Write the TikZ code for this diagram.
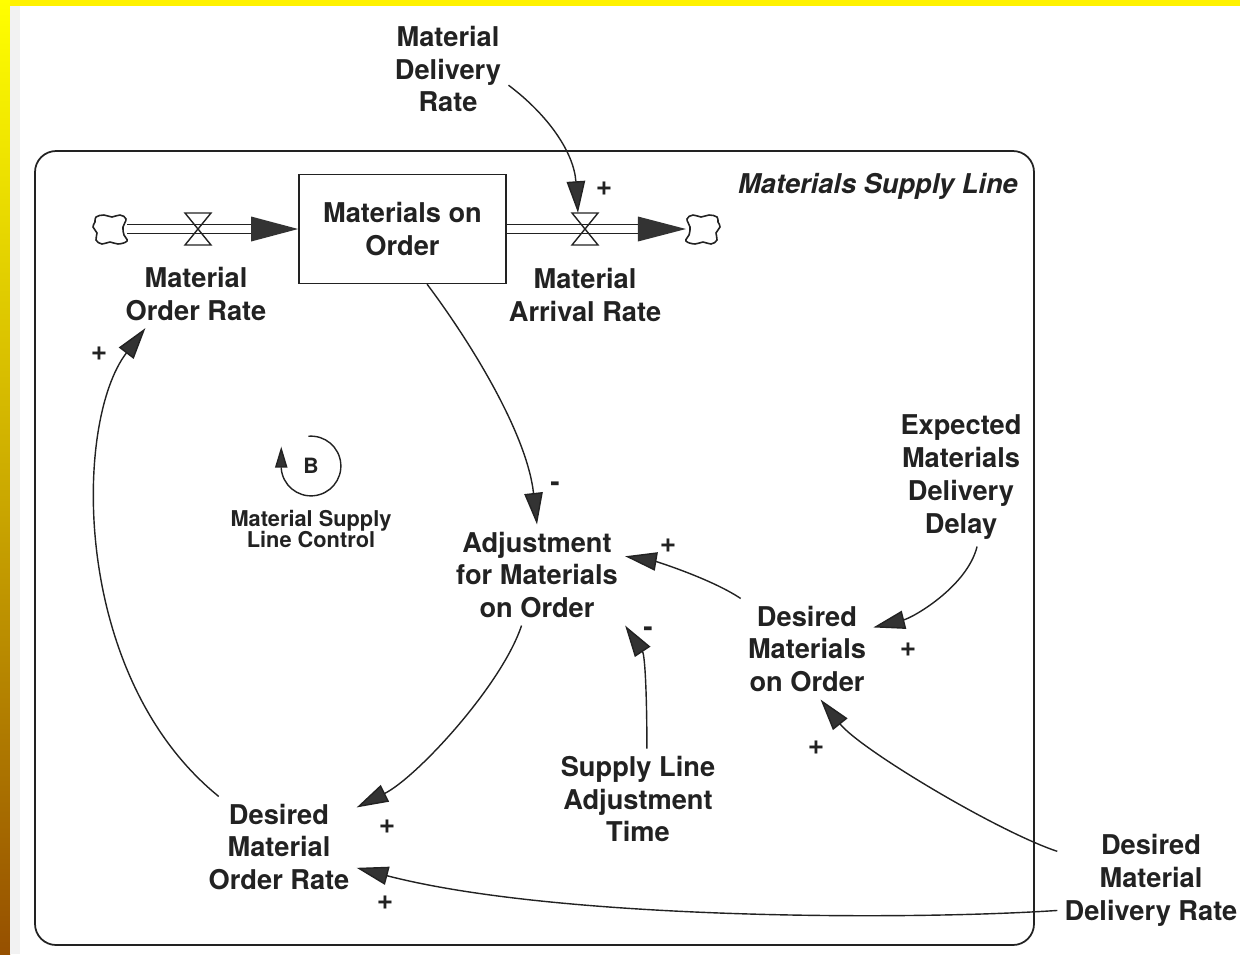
\documentclass[tikz,border=0pt]{standalone}
\usepackage{fontspec}
\setmainfont{TeX Gyre Heros}
\usetikzlibrary{arrows.meta}
\definecolor{ink}{HTML}{222222}
\definecolor{tipgray}{HTML}{333333}
\definecolor{edgegold}{RGB}{205,172,0}
\definecolor{edgebrown}{RGB}{150,80,0}
\begin{document}
\begin{tikzpicture}[x=0.02cm,y=-0.02cm,
    var/.style={align=center,inner sep=4pt,text=ink,font=\bfseries\fontsize{15.5}{18.7}\selectfont},
    sign/.style={inner sep=0pt,text=ink,font=\bfseries\fontsize{16}{16}\selectfont},
    link/.style={line width=0.8pt,draw=ink,-{Triangle[length=18pt,width=10.5pt,fill=tipgray]}},
    pipe/.style={double distance=4pt,line width=0.9pt,draw=ink},
    gate/.style={minimum width=15pt,minimum height=18pt,inner sep=0pt},
    sink/.style={minimum width=19pt,minimum height=17pt,inner sep=0pt},
    valve/.pic={\draw[line width=0.8pt,draw=ink] (-13,-16) -- (13,-16) -- (-13,16) -- (13,16) -- cycle;},
    cloud/.pic={\draw[line width=0.9pt,draw=ink,fill=white] plot[smooth cycle,tension=0.7] coordinates
        {(-14,-12) (-6,-14) (2,-12) (10,-14) (16,-10) (13,-2) (14,6) (17,12) (8,15) (0,13) (-8,15) (-14,11) (-13,4) (-17,-2) (-15,-7)};}]
    \useasboundingbox (0,0) rectangle (1240,954);
    % page edge
    \fill[yellow] (0,0) rectangle (1240,6);
    \shade[top color=yellow,bottom color=edgebrown,middle color=edgegold] (0,0) rectangle (10,954);
    \fill[black!5] (10,6) rectangle (20,954);
    \draw[line width=1pt,draw=ink,rounded corners=12pt] (35,151) rectangle (1034,945);
    \node[var,font=\bfseries\itshape\fontsize{15.5}{18}\selectfont] (title) at (878,186) {Materials Supply Line};
    % stock and flows
    \node[var,draw=ink,line width=0.8pt,minimum width=118pt,minimum height=62pt] (stock) at (402.5,229) {Materials on\\Order};
    \node[sink] (cloudL) at (110,229) {};
    \node[sink] (cloudR) at (703,229) {};
    \node[gate] (vin) at (198,229) {};
    \node[gate] (vout) at (585,229) {};
    \draw[pipe,shorten >=25pt] (cloudL.east) -- (stock.west);
    \fill[tipgray] (stock.west) -- ++(-47,-12.5) -- ++(0,25) -- cycle;
    \draw[pipe,shorten >=26pt] (stock.east) -- (cloudR.west);
    \fill[tipgray] (cloudR.west) -- ++(-48,-12.5) -- ++(0,25) -- cycle;
    \pic at (vin) {valve};
    \pic at (vout) {valve};
    \pic at (cloudL) {cloud};
    \pic[xscale=-1] at (cloudR) {cloud};
    \node[var] (mor) at (196,294) {Material\\Order Rate};
    \node[var] (mar) at (585,295) {Material\\Arrival Rate};
    \node[var] (mdr) at (448,69) {Material\\Delivery\\Rate};
    % auxiliaries
    \node[var] (adj) at (537,575) {Adjustment\\for Materials\\on Order};
    \node[var] (emdd) at (961,477) {Expected\\Materials\\Delivery\\Delay};
    \node[var] (dmo) at (807,649) {Desired\\Materials\\on Order};
    \node[var] (slat) at (638,799) {Supply Line\\Adjustment\\Time};
    \node[var] (dmor) at (279,847) {Desired\\Material\\Order Rate};
    \node[var] (dmdr) at (1151,880) {Desired\\Material\\Delivery Rate};
    % links
    \draw[link] (mdr.-15) .. controls +(40,30) and +(-4,-60) .. ([xshift=-4pt]vout.north);
    \draw[link] (stock.-66) .. controls +(45,60) and +(-10,-90) .. (adj.north);
    \draw[link] (emdd.-77) .. controls +(-10,40) and +(40,-10) .. (dmo.18);
    \draw[link] (dmo.north west) .. controls +(-30,-20) and +(30,5) .. (adj.12);
    \draw[link] (slat.80) .. controls +(0,-50) and +(20,30) .. (adj.south east);
    \draw[link] (adj.-107) .. controls +(-20,60) and +(60,-30) .. (dmor.27);
    \draw[link] (dmor.140) .. controls +(-148,-120) and +(-72,94) .. (mor.-146);
    \draw[link] (dmdr.163) .. controls +(-60,-20) and +(40,50) .. (dmo.-75);
    \draw[link] (dmdr.-162) .. controls +(-150,10) and +(200,52) .. (dmor.-15);
    % polarities
    \node[sign] (s1) at (604,189) {+};
    \node[sign] (s2) at (555,487) {-};
    \node[sign] (s3) at (668,546) {+};
    \node[sign] (s4) at (648,632) {-};
    \node[sign] (s5) at (908,650) {+};
    \node[sign] (s6) at (816,748) {+};
    \node[sign] (s7) at (387,827) {+};
    \node[sign] (s8) at (385,903) {+};
    \node[sign] (s9) at (99,354) {+};
    % loop
    \node[inner sep=0pt,text=ink,font=\bfseries\fontsize{12}{12}\selectfont] (loopB) at (311,466) {B};
    \draw[line width=0.8pt,draw=ink,-{Triangle[length=12pt,width=7pt,fill=tipgray]}] ([shift={(95:17pt)}]loopB.center) arc[start angle=95,end angle=-175,radius=17pt] -- ++(0,-22);
    \node[align=center,text=ink,font=\bfseries\fontsize{12.4}{12.5}\selectfont] (looplbl) at (311,529) {Material Supply\\Line Control};
\end{tikzpicture}
\end{document}
